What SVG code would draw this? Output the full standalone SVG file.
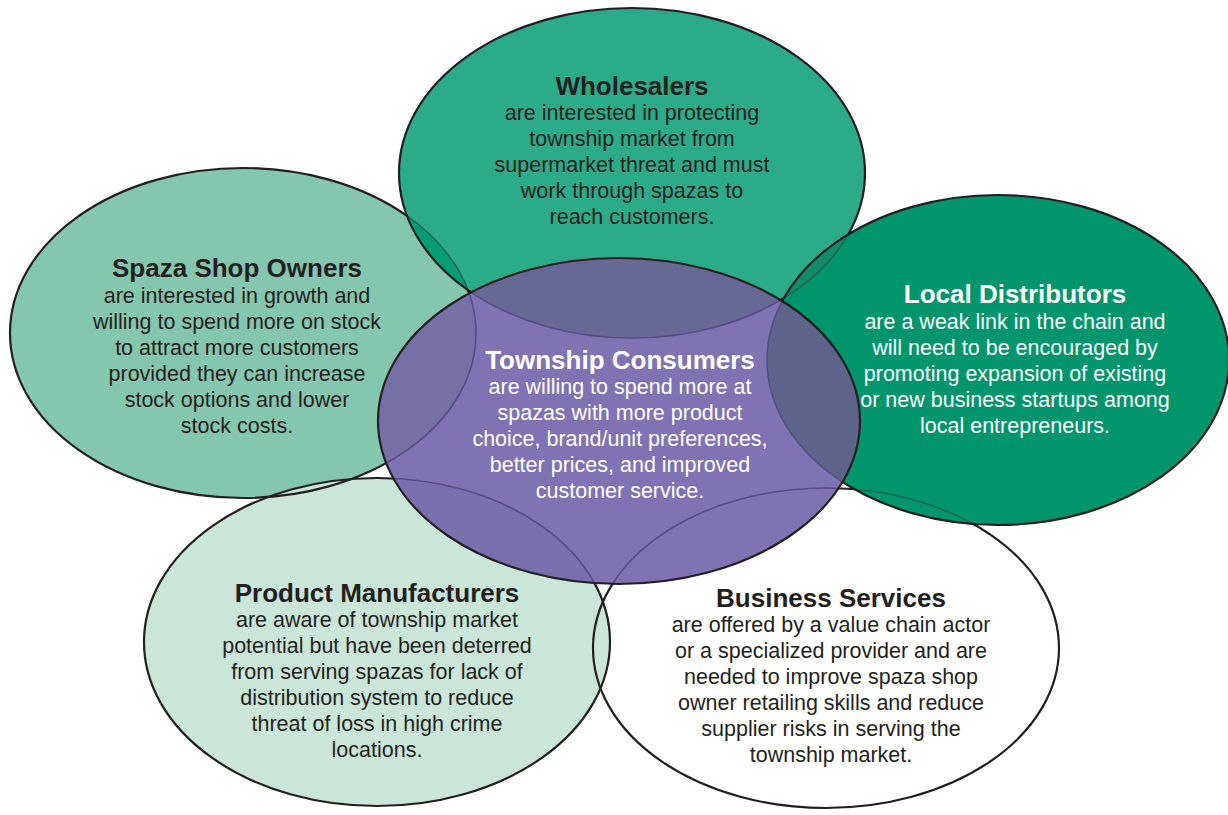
<svg xmlns="http://www.w3.org/2000/svg" width="1228" height="815" viewBox="0 0 1228 815">
<style>
  .ol { fill: none; stroke: #231f20; stroke-width: 2.2; }
  .faint { fill: none; stroke: #1d6b54; stroke-width: 1.6; }
  .pfaint { fill: none; stroke: #564d85; stroke-width: 1.6; }
  text { font-family: "Liberation Sans", Arial, Helvetica, sans-serif; text-anchor: middle; }
  .t { font-size: 26px; font-weight: bold; }
  .b { font-size: 21.5px; }
  .dk { fill: #231f20; }
  .wt { fill: #ffffff; }
</style>
<defs>
  <clipPath id="clipS"><ellipse cx="243" cy="333" rx="233" ry="165"/></clipPath>
  <clipPath id="clipW"><ellipse cx="632" cy="173" rx="233" ry="165"/></clipPath>
  <clipPath id="clipL"><ellipse cx="998" cy="360" rx="231" ry="165"/></clipPath>
  <clipPath id="clipM"><ellipse cx="377" cy="642" rx="233" ry="164"/></clipPath>
  <clipPath id="clipT"><ellipse cx="619" cy="421" rx="241" ry="163"/></clipPath>
</defs>
<rect width="1228" height="815" fill="#ffffff"/>

<g id="spaza-shop-owners">
  <ellipse cx="243" cy="333" rx="233" ry="165" fill="#85c6ae"/>
</g>

<g id="product-manufacturers">
  <ellipse cx="377" cy="642" rx="233" ry="164" fill="#c9e6d9"/>
  <ellipse class="ol" cx="243" cy="333" rx="233" ry="165"/>
  <ellipse class="ol" cx="377" cy="642" rx="233" ry="164"/>
  <text class="t dk" x="377" y="602">Product Manufacturers</text>
  <text class="b dk" x="377" y="627">are aware of township market</text>
  <text class="b dk" x="377" y="653">potential but have been deterred</text>
  <text class="b dk" x="377" y="679">from serving spazas for lack of</text>
  <text class="b dk" x="377" y="705">distribution system to reduce</text>
  <text class="b dk" x="377" y="731">threat of loss in high crime</text>
  <text class="b dk" x="377" y="757">locations.</text>
</g>

<g id="spaza-text">
  <text class="t dk" x="237" y="277">Spaza Shop Owners</text>
  <text class="b dk" x="237" y="303">are interested in growth and</text>
  <text class="b dk" x="237" y="329">willing to spend more on stock</text>
  <text class="b dk" x="237" y="355">to attract more customers</text>
  <text class="b dk" x="237" y="381">provided they can increase</text>
  <text class="b dk" x="237" y="407">stock options and lower</text>
  <text class="b dk" x="237" y="433">stock costs.</text>
</g>

<g id="business-services">
  <ellipse class="ol" cx="826" cy="648" rx="233" ry="160"/>
  <text class="t dk" x="831" y="607">Business Services</text>
  <text class="b dk" x="831" y="632">are offered by a value chain actor</text>
  <text class="b dk" x="831" y="658">or a specialized provider and are</text>
  <text class="b dk" x="831" y="684">needed to improve spaza shop</text>
  <text class="b dk" x="831" y="710">owner retailing skills and reduce</text>
  <text class="b dk" x="831" y="736">supplier risks in serving the</text>
  <text class="b dk" x="831" y="762">township market.</text>
</g>

<g id="wholesalers">
  <ellipse cx="632" cy="173" rx="233" ry="165" fill="#2bab88"/>
  <ellipse cx="243" cy="333" rx="233" ry="165" fill="#079c72" clip-path="url(#clipW)"/>
  <ellipse class="faint" cx="243" cy="333" rx="233" ry="165" clip-path="url(#clipW)"/>
  <ellipse class="ol" cx="632" cy="173" rx="233" ry="165"/>
  <text class="t dk" x="632" y="95">Wholesalers</text>
  <text class="b dk" x="632" y="120">are interested in protecting</text>
  <text class="b dk" x="632" y="146">township market from</text>
  <text class="b dk" x="632" y="172">supermarket threat and must</text>
  <text class="b dk" x="632" y="198">work through spazas to</text>
  <text class="b dk" x="632" y="224">reach customers.</text>
</g>

<g id="local-distributors">
  <ellipse cx="998" cy="360" rx="231" ry="165" fill="#00956b"/>
  <ellipse cx="632" cy="173" rx="233" ry="165" fill="#128b68" clip-path="url(#clipL)"/>
  <ellipse class="faint" cx="632" cy="173" rx="233" ry="165" clip-path="url(#clipL)"/>
  <ellipse class="faint" cx="826" cy="648" rx="233" ry="160" clip-path="url(#clipL)"/>
  <ellipse class="ol" cx="998" cy="360" rx="231" ry="165"/>
  <text class="t wt" x="1015" y="303">Local Distributors</text>
  <text class="b wt" x="1015" y="329">are a weak link in the chain and</text>
  <text class="b wt" x="1015" y="355">will need to be encouraged by</text>
  <text class="b wt" x="1015" y="381">promoting expansion of existing</text>
  <text class="b wt" x="1015" y="407">or new business startups among</text>
  <text class="b wt" x="1015" y="433">local entrepreneurs.</text>
</g>

<g id="township-consumers">
  <ellipse cx="619" cy="421" rx="241" ry="163" fill="#7f73b3"/>
  <g clip-path="url(#clipT)">
    <ellipse cx="243" cy="333" rx="233" ry="165" fill="#7670a6"/>
    <ellipse cx="377" cy="642" rx="233" ry="164" fill="#7a70ae"/>
    <ellipse cx="632" cy="173" rx="233" ry="165" fill="#686896"/>
    <ellipse cx="998" cy="360" rx="231" ry="165" fill="#5e6489"/>
    <ellipse class="pfaint" cx="243" cy="333" rx="233" ry="165"/>
    <ellipse class="pfaint" cx="377" cy="642" rx="233" ry="164"/>
    <ellipse class="pfaint" cx="632" cy="173" rx="233" ry="165"/>
    <ellipse class="pfaint" cx="998" cy="360" rx="231" ry="165"/>
    <ellipse class="pfaint" cx="826" cy="648" rx="233" ry="160"/>
  </g>
  <ellipse class="ol" cx="619" cy="421" rx="241" ry="163"/>
  <text class="t wt" x="620" y="369">Township Consumers</text>
  <text class="b wt" x="620" y="394">are willing to spend more at</text>
  <text class="b wt" x="620" y="420">spazas with more product</text>
  <text class="b wt" x="620" y="446">choice, brand/unit preferences,</text>
  <text class="b wt" x="620" y="472">better prices, and improved</text>
  <text class="b wt" x="620" y="498">customer service.</text>
</g>
</svg>
